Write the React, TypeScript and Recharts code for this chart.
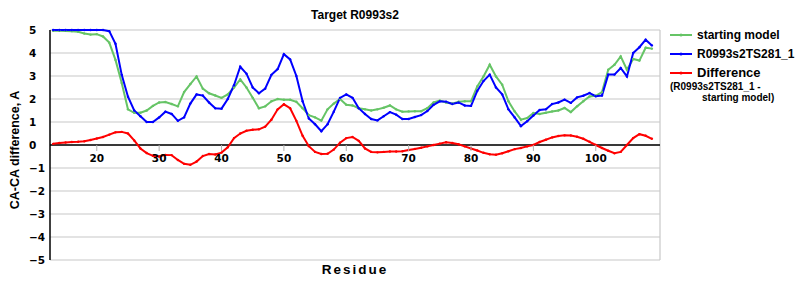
import { LineChart, Line, XAxis, YAxis, CartesianGrid, ReferenceLine, Label } from 'recharts';

const residues = [
  13, 14, 15, 16, 17, 18, 19, 20, 21, 22,
  23, 24, 25, 26, 27, 28, 29, 30, 31, 32,
  33, 34, 35, 36, 37, 38, 39, 40, 41, 42,
  43, 44, 45, 46, 47, 48, 49, 50, 51, 52,
  53, 54, 55, 56, 57, 58, 59, 60, 61, 62,
  63, 64, 65, 66, 67, 68, 69, 70, 71, 72,
  73, 74, 75, 76, 77, 78, 79, 80, 81, 82,
  83, 84, 85, 86, 87, 88, 89, 90, 91, 92,
  93, 94, 95, 96, 97, 98, 99, 100, 101, 102,
  103, 104, 105, 106, 107, 108, 109,
];

const startingModel = [
  4.97, 4.97, 4.96, 4.95, 4.92, 4.85, 4.8, 4.82, 4.72, 4.45,
  3.7, 2.7, 1.55, 1.4, 1.4, 1.5, 1.7, 1.85, 1.87, 1.78,
  1.68, 2.3, 2.65, 2.98, 2.45, 2.25, 2.15, 2.05, 2.2, 2.5,
  2.85, 2.5, 2.05, 1.6, 1.68, 1.9, 2.0, 1.97, 1.97, 1.88,
  1.6, 1.3, 1.2, 1.06, 1.55, 1.8, 2.0, 1.75, 1.72, 1.6,
  1.55, 1.5, 1.55, 1.62, 1.72, 1.55, 1.45, 1.46, 1.47, 1.47,
  1.6, 1.85, 1.93, 1.85, 1.8, 1.88, 1.9, 1.9, 2.55, 2.98,
  3.49, 2.98, 2.62, 1.9, 1.46, 1.1, 1.17, 1.39, 1.35, 1.4,
  1.46, 1.5, 1.61, 1.43, 1.68, 1.9, 2.11, 2.14, 2.3, 3.27,
  3.49, 3.85, 3.27, 3.74, 3.67, 4.23, 4.19,
];

const model = [
  5, 5, 5, 5, 5, 5, 5, 5, 5, 4.95,
  4.4, 3.05, 2.1, 1.5, 1.25, 1.0, 1.0, 1.2, 1.45, 1.35,
  1.05, 1.2, 1.8, 2.2, 2.15, 1.85, 1.6, 1.58, 2.0, 2.6,
  3.4, 3.1, 2.5, 2.25, 2.45, 3.05, 3.3, 3.95, 3.72, 3.0,
  1.9, 1.15, 0.9, 0.6, 0.9, 1.45, 2.05, 2.2, 2.05, 1.6,
  1.35, 1.13, 1.07, 1.25, 1.43, 1.32, 1.13, 1.13, 1.22, 1.3,
  1.48, 1.75, 1.9, 1.88, 1.78, 1.85, 1.72, 1.7, 2.35, 2.78,
  3.06, 2.5, 2.2, 1.55, 1.2, 0.82, 1.03, 1.28, 1.52, 1.55,
  1.78, 1.85, 1.97, 1.83, 2.07, 2.14, 2.26, 2.12, 2.15, 3.06,
  3.06, 3.35, 2.98, 4.0, 4.25, 4.58, 4.33,
];

const difference = [
  0.05, 0.09, 0.11, 0.13, 0.14, 0.16, 0.22, 0.28, 0.35, 0.45,
  0.55, 0.57, 0.5, 0.2, -0.15, -0.35, -0.47, -0.5, -0.43, -0.44,
  -0.65, -0.82, -0.86, -0.72, -0.48, -0.39, -0.41, -0.33, -0.1, 0.3,
  0.5, 0.62, 0.66, 0.68, 0.8, 1.1, 1.55, 1.77, 1.6, 1.05,
  0.4, -0.05, -0.3, -0.39, -0.38, -0.2, 0.1, 0.3, 0.35, 0.18,
  -0.15, -0.3, -0.32, -0.3, -0.28, -0.28, -0.27, -0.22, -0.17, -0.12,
  -0.06, 0.0, 0.06, 0.12, 0.09, 0.03, -0.06, -0.15, -0.24, -0.34,
  -0.4, -0.42, -0.36, -0.27, -0.18, -0.13, -0.06, 0.0, 0.13, 0.23,
  0.33, 0.39, 0.42, 0.41, 0.36, 0.27, 0.14, 0.0, -0.13, -0.25,
  -0.36, -0.3, 0.0, 0.3, 0.47, 0.4, 0.27,
];

const xTicks = [20, 30, 40, 50, 60, 70, 80, 90, 100];
const yTicks = [-5, -4, -3, -2, -1, 0, 1, 2, 3, 4, 5];

const data = residues.map((r, i) => ({
  residue: r,
  start: startingModel[i],
  model: model[i],
  diff: difference[i],
}));

const GREEN = '#66c466';
const BLUE = '#0000ff';
const RED = '#ff0000';

const PLOT_TOP = 30;
const PLOT_H = 230;
const ZERO_Y = PLOT_TOP + PLOT_H / 2;

const tickFont = { fontFamily: 'DejaVu Sans', fontWeight: 700, fontSize: 10.5 };

function XTick({ x, payload }: any) {
  return (
    <g>
      <line x1={x} x2={x} y1={ZERO_Y} y2={ZERO_Y + 6} stroke="#b0b0b0" />
      <text x={x} y={ZERO_Y + 17} textAnchor="middle" fill="#000" style={tickFont}>
        {payload.value}
      </text>
    </g>
  );
}

function YTick({ x, y, payload }: any) {
  const v = String(payload.value).replace('-', '\u2212');
  return (
    <text x={x - 21} y={y + 4} textAnchor="start" fill="#000" style={tickFont}>
      {v}
    </text>
  );
}

function LegendItem({ color, label, top, size = 12 }: { color: string; label: string; top: number; size?: number }) {
  return (
    <div style={{ position: 'absolute', left: 670, top, display: 'flex', alignItems: 'center', whiteSpace: 'nowrap' }}>
      <svg width={22} height={6} style={{ marginRight: 5 }}>
        <line x1={0} x2={22} y1={3} y2={3} stroke={color} strokeWidth={2} />
        <circle cx={11} cy={3} r={1.5} fill={color} />
      </svg>
      <span style={{ fontSize: size }}>{label}</span>
    </div>
  );
}

export default function App() {
  return (
    <div
      style={{
        position: 'absolute',
        left: 0,
        top: 0,
        width: 800,
        height: 300,
        background: '#fff',
        fontFamily: '"Liberation Sans", Arial, sans-serif',
        fontWeight: 700,
        fontSize: 12,
        color: '#000',
      }}
    >
      <LineChart
        width={800}
        height={300}
        data={data}
        margin={{ top: PLOT_TOP, right: 140, bottom: 0, left: 0 }}
      >
        <CartesianGrid vertical={false} stroke="#c8c8c8" strokeWidth={1.2} />
        <XAxis
          dataKey="residue"
          type="number"
          domain={[12.5, 110.3]}
          ticks={xTicks}
          height={40}
          axisLine={false}
          tickLine={false}
          tickSize={0}
          tickMargin={0}
          tick={<XTick />}
          interval={0}
        >
          <Label
            value="Residue"
            position="insideTop"
            offset={4}
            style={{ fontFamily: '"Liberation Sans", Arial', fontWeight: 700, fontSize: 13.5, letterSpacing: 2, fill: '#000' }}
          />
        </XAxis>
        <YAxis
          type="number"
          domain={[-5, 5]}
          ticks={yTicks}
          width={50}
          axisLine={{ stroke: '#000', strokeWidth: 1.5 }}
          tickLine={false}
          tickSize={0}
          tickMargin={0}
          tick={<YTick />}
          interval={0}
        >
          <Label
            value="CA-CA difference, A"
            angle={-90}
            position="insideLeft"
            offset={15}
            dy={5}
            style={{ textAnchor: 'middle', fontFamily: '"Liberation Sans", Arial', fontWeight: 700, fontSize: 12.5, fill: '#000' }}
          />
        </YAxis>
        <ReferenceLine x={110.3} stroke="#c8c8c8" strokeWidth={1.2} />
        <ReferenceLine y={0} stroke="#000" strokeWidth={1.5} />
        <Line
          type="linear"
          dataKey="start"
          stroke={GREEN}
          strokeWidth={2}
          dot={{ r: 1.2, fill: GREEN, stroke: 'none' }}
          isAnimationActive={false}
        />
        <Line
          type="linear"
          dataKey="model"
          stroke={BLUE}
          strokeWidth={2}
          dot={{ r: 1.2, fill: BLUE, stroke: 'none' }}
          isAnimationActive={false}
        />
        <Line
          type="linear"
          dataKey="diff"
          stroke={RED}
          strokeWidth={2}
          dot={{ r: 1.2, fill: RED, stroke: 'none' }}
          isAnimationActive={false}
        />
      </LineChart>

      <div
        style={{
          position: 'absolute',
          left: 50,
          width: 610,
          top: 8,
          textAlign: 'center',
          fontFamily: '"Liberation Sans Narrow", "Liberation Sans", Arial',
          fontSize: 12,
        }}
      >
        Target R0993s2
      </div>

      <div style={{ position: 'absolute', left: 0, top: 0, lineHeight: '14px' }}>
        <LegendItem color={GREEN} label="starting model" top={28} />
        <LegendItem color={BLUE} label="R0993s2TS281_1" top={47} />
        <LegendItem color={RED} label="Difference" top={66} size={13} />
        <div style={{ position: 'absolute', left: 670, top: 81, fontSize: 10, lineHeight: '11px', whiteSpace: 'nowrap' }}>
          (R0993s2TS281_1 -
          <br />
          <span style={{ paddingLeft: 32 }}>starting model)</span>
        </div>
      </div>
    </div>
  );
}
